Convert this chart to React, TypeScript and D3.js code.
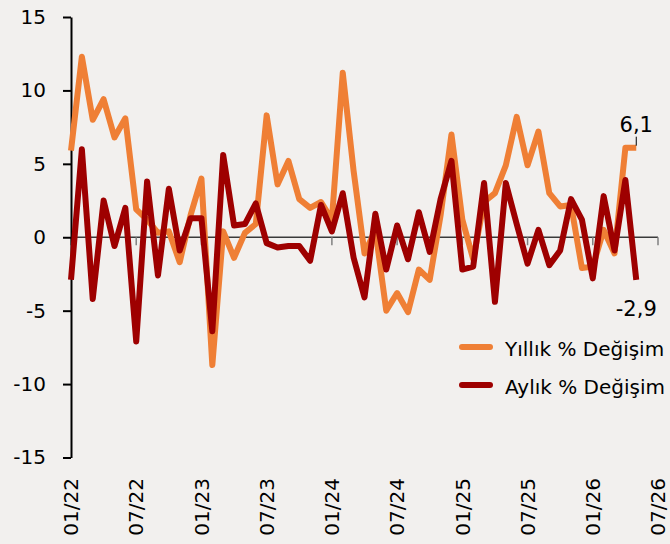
import React, { useRef, useEffect } from "react";
import * as d3 from "d3";

// aylık veri, 01/22 - 05/26
const yillik = [
  5.9, 12.3, 8.0, 9.4, 6.8, 8.1, 1.9, 1.2, 0.3, 0.4,
  -1.7, 1.5, 4.0, -8.7, 0.4, -1.4, 0.3, 0.9, 8.3, 3.6,
  5.2, 2.6, 2.0, 2.4, 1.2, 11.2, 4.5, -1.1, 0.5, -5.0,
  -3.8, -5.1, -2.2, -2.9, 1.5, 7.0, 1.2, -1.5, 2.4, 3.0,
  4.9, 8.2, 4.9, 7.2, 3.0, 2.1, 2.2, -2.1, -2.0, 0.5,
  -1.1, 6.1, 6.1,
];

const aylik = [
  -2.9, 6.0, -4.2, 2.5, -0.6, 2.0, -7.1, 3.8, -2.6, 3.3,
  -0.9, 1.3, 1.3, -6.4, 5.6, 0.8, 0.9, 2.3, -0.4, -0.7,
  -0.6, -0.6, -1.6, 2.2, 0.4, 3.0, -1.4, -4.1, 1.6, -2.2,
  0.8, -1.5, 1.7, -1.0, 2.6, 5.2, -2.2, -2.0, 3.7, -4.4,
  3.7, 0.9, -1.8, 0.5, -1.9, -0.9, 2.6, 1.2, -2.8, 2.8,
  -0.9, 3.9, -2.9,
];

const xTickLabels = ["01/22", "07/22", "01/23", "07/23", "01/24", "07/24", "01/25", "07/25", "01/26", "07/26"];
const yTicks = [-15, -10, -5, 0, 5, 10, 15];
const seriesNames = ["Yıllık % Değişim", "Aylık % Değişim"];
const colors = ["#ef7f35", "#9e0000"];

const FONT = "DejaVu Sans";

function Chart() {
  const ref = useRef<SVGSVGElement>(null);

  useEffect(() => {
    const svg = d3.select(ref.current);
    svg.selectAll("*").remove();

    const x = d3.scaleLinear().domain([0, 54]).range([71, 658]);
    const y = d3.scaleLinear().domain([-15, 15]).range([457.5, 17]);

    svg.append("rect").attr("width", 670).attr("height", 544).attr("fill", "#f2f0ee");

    // sıfır çizgisi ve küçük tikler
    svg
      .append("line")
      .attr("x1", x(0))
      .attr("x2", x(54))
      .attr("y1", y(0))
      .attr("y2", y(0))
      .attr("stroke", "#3a3a3a")
      .attr("stroke-width", 1.3);

    xTickLabels.forEach((lab, i) => {
      const xp = x(i * 6);
      svg
        .append("line")
        .attr("x1", xp)
        .attr("x2", xp)
        .attr("y1", y(0))
        .attr("y2", y(0) + 8)
        .attr("stroke", "#808080")
        .attr("stroke-width", 1.5);
      svg
        .append("text")
        .attr("transform", `translate(${xp},478) rotate(-90)`)
        .attr("text-anchor", "end")
        .attr("dy", "0.36em")
        .style("font-family", FONT)
        .style("font-size", "20px")
        .attr("fill", "#000")
        .text(lab);
    });

    // y ekseni
    const yAxis = svg
      .append("g")
      .attr("transform", `translate(${x(0)},0)`)
      .call(
        d3
          .axisLeft(y)
          .tickValues(yTicks)
          .tickFormat((d) => String(d))
          .tickSize(8)
          .tickSizeOuter(0)
          .tickPadding(17)
      );
    yAxis.select(".domain").attr("stroke", "#000").attr("stroke-width", 2);
    yAxis.selectAll(".tick line").attr("stroke", "#000").attr("stroke-width", 2);
    yAxis
      .selectAll(".tick text")
      .style("font-family", FONT)
      .style("font-size", "20px")
      .attr("fill", "#000");

    const line = d3
      .line<number>()
      .x((d, i) => x(i))
      .y((d) => y(d));

    [yillik, aylik].forEach((vals, k) => {
      svg
        .append("path")
        .datum(vals)
        .attr("d", line)
        .attr("fill", "none")
        .attr("stroke", colors[k])
        .attr("stroke-width", 6)
        .attr("stroke-linejoin", "round");
    });

    // son değer etiketleri
    const last = yillik.length - 1;
    svg
      .append("line")
      .attr("x1", x(last))
      .attr("x2", x(last))
      .attr("y1", y(yillik[last]) - 11)
      .attr("y2", y(yillik[last]) - 2)
      .attr("stroke", "#000")
      .attr("stroke-width", 1);
    svg
      .append("text")
      .attr("x", x(last))
      .attr("y", y(yillik[last]) - 16)
      .attr("text-anchor", "middle")
      .style("font-family", FONT)
      .style("font-size", "21px")
      .text(String(yillik[last]).replace(".", ","));
    svg
      .append("text")
      .attr("x", x(last))
      .attr("y", y(aylik[last]) + 36)
      .attr("text-anchor", "middle")
      .style("font-family", FONT)
      .style("font-size", "21px")
      .text(String(aylik[last]).replace(".", ","));

    // lejant
    seriesNames.forEach((name, k) => {
      const ly = 347 + k * 38;
      svg
        .append("line")
        .attr("x1", 462)
        .attr("x2", 490)
        .attr("y1", ly)
        .attr("y2", ly)
        .attr("stroke", colors[k])
        .attr("stroke-width", 6)
        .attr("stroke-linecap", "round");
      svg
        .append("text")
        .attr("x", 505)
        .attr("y", ly + 2)
        .attr("dy", "0.35em")
        .style("font-family", FONT)
        .style("font-size", "20px")
        .attr("fill", "#000")
        .text(name);
    });
  }, []);

  return <svg ref={ref} width={670} height={544} style={{ display: "block" }}></svg>;
}

export default function App() {
  return (
    <div>
      <style>{"body{margin:0;background:#f2f0ee;}"}</style>
      <Chart />
    </div>
  );
}
